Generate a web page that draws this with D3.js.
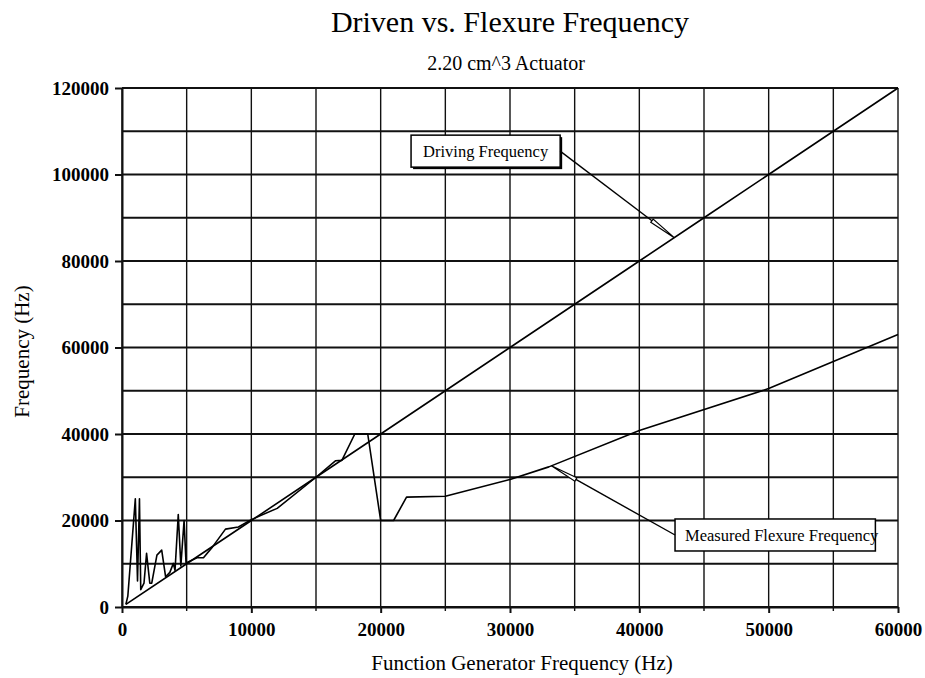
<!DOCTYPE html>
<html>
<head>
<meta charset="utf-8">
<script src="https://cdn.jsdelivr.net/npm/d3@7/dist/d3.min.js"></script>
<style>
  html, body { margin: 0; padding: 0; background: #fff; }
  svg { display: block; font-family: "Liberation Serif", "Times New Roman", serif; }
</style>
</head>
<body>
<div id="chart"></div>
<script>
// measured flexure frequency vs function generator frequency (Hz)
var measuredX = [300, 450, 1030, 1200, 1350, 1450, 1700, 1900, 2150, 2300, 2700, 3070, 3370,
  3700, 3970, 4100, 4350, 4550, 4800, 4950, 5800, 6300, 7000, 8000, 9000, 10000,
  12000, 15000, 16500, 17000, 18000, 19000, 20000, 21000, 22000, 25000, 30000,
  33000, 40000, 50000, 60000];
var measuredY = [600, 2500, 25000, 6000, 25000, 4000, 5500, 12400, 5500, 5500, 12000, 13150, 7000,
  8000, 10080, 8500, 21400, 9500, 20000, 10200, 11400, 11400, 13900, 18000, 18500, 20200,
  22800, 30000, 33800, 33900, 40000, 40000, 20000, 20000, 25400, 25600, 29500,
  32400, 40800, 50500, 63000];

// driving frequency
var drivingX = [300, 5000, 10000, 15000, 20000, 25000, 30000, 35000, 40000, 45000, 50000, 55000, 60000];
var drivingY = [600, 10000, 20000, 30000, 40000, 50000, 60000, 70000, 80000, 90000, 100000, 110000, 120000];

var xTicks = [0, 10000, 20000, 30000, 40000, 50000, 60000];
var yTicks = [0, 20000, 40000, 60000, 80000, 100000, 120000];

var titleText = 'Driven vs. Flexure Frequency';
var subTitleText = '2.20 cm^3 Actuator';
var xTitle = 'Function Generator Frequency (Hz)';
var yTitle = 'Frequency (Hz)';

// callout boxes: anchor on the series, box corner in data units
var callouts = [
  { text: 'Driving Frequency', ax: 42700, ay: 85400, bx: 22350, by: 109100, padL: 12, padR: 12, shadow: true },
  { text: 'Measured Flexure Frequency', ax: 33200, ay: 32650, bx: 42760, by: 20350, padL: 10, padR: -3, shadow: false }
];

var width = 925,
    height = 678,
    margin = { top: 88, right: 27, bottom: 71, left: 122 };

var svg = d3.select('#chart')
    .append('svg')
        .attr('width', width)
        .attr('height', height);

var x = d3.scaleLinear()
    .domain([0, 60000])
    .range([margin.left, width - margin.right]);
var y = d3.scaleLinear()
    .domain([0, 120000])
    .range([height - margin.bottom, margin.top]);

// grid
var grid = svg.append('g').attr('class', 'grid');
grid.selectAll('line.v')
    .data(d3.range(0, 60001, 5000))
    .enter().append('line')
        .attr('class', 'v')
        .attr('x1', function(d) { return x(d); })
        .attr('x2', function(d) { return x(d); })
        .attr('y1', y(0))
        .attr('y2', y(120000))
        .attr('stroke', '#111')
        .attr('stroke-width', 1.4);
grid.selectAll('line.h')
    .data(d3.range(0, 120001, 10000))
    .enter().append('line')
        .attr('class', 'h')
        .attr('x1', x(0))
        .attr('x2', x(60000))
        .attr('y1', function(d) { return y(d); })
        .attr('y2', function(d) { return y(d); })
        .attr('stroke', '#111')
        .attr('stroke-width', 2);

// axes
svg.append('g')
    .attr('transform', 'translate(0,' + y(0) + ')')
    .call(d3.axisBottom(x)
        .tickValues(xTicks)
        .tickSize(6)
        .tickSizeOuter(0)
        .tickPadding(10)
        .tickFormat(d3.format('d')));
// minor ticks
svg.append('g')
    .selectAll('line')
    .data(d3.range(5000, 60000, 10000))
    .enter().append('line')
        .attr('x1', function(d) { return x(d); })
        .attr('x2', function(d) { return x(d); })
        .attr('y1', y(0))
        .attr('y2', y(0) + 4)
        .attr('stroke', '#111')
        .attr('stroke-width', 1.4);

svg.append('g')
    .attr('transform', 'translate(' + x(0) + ',0)')
    .call(d3.axisLeft(y)
        .tickValues(yTicks)
        .tickSize(7)
        .tickSizeOuter(0)
        .tickPadding(6)
        .tickFormat(d3.format('d')));

svg.selectAll('.domain')
    .attr('stroke', '#111')
    .attr('stroke-width', 2);
svg.selectAll('.tick line')
    .attr('stroke', '#111')
    .attr('stroke-width', 2);
svg.selectAll('.tick text')
    .attr('fill', '#000')
    .style('font-family', '"Liberation Serif", serif')
    .style('font-size', '19px')
    .style('font-weight', 'bold');

// series
var line = d3.line()
    .x(function(d) { return x(d[0]); })
    .y(function(d) { return y(d[1]); });

svg.append('path')
    .datum(d3.zip(drivingX, drivingY))
    .attr('d', line)
    .attr('fill', 'none')
    .attr('stroke', '#000')
    .attr('stroke-width', 1.6);

svg.append('path')
    .datum(d3.zip(measuredX, measuredY))
    .attr('d', line)
    .attr('fill', 'none')
    .attr('stroke', '#000')
    .attr('stroke-width', 1.6)
    .attr('stroke-linejoin', 'round');

// titles
svg.append('text')
    .attr('x', (x(0) + x(60000)) / 2)
    .attr('y', 32)
    .style('text-anchor', 'middle')
    .style('font-size', '30px')
    .text(titleText);
svg.append('text')
    .attr('x', (x(0) + x(60000)) / 2 - 4)
    .attr('y', 70)
    .style('text-anchor', 'middle')
    .style('font-size', '20px')
    .text(subTitleText);
svg.append('text')
    .attr('x', (x(0) + x(60000)) / 2 + 12)
    .attr('y', 670)
    .style('text-anchor', 'middle')
    .style('font-size', '21px')
    .text(xTitle);
svg.append('text')
    .attr('transform', 'translate(29,' + ((y(0) + y(120000)) / 2 + 4) + ') rotate(-90)')
    .style('text-anchor', 'middle')
    .style('font-size', '21px')
    .text(yTitle);

// callouts
callouts.forEach(function(c) {
  var g = svg.append('g').attr('class', 'callout');
  var bx = x(c.bx), by = y(c.by);
  var t = g.append('text')
      .attr('x', bx + c.padL)
      .attr('y', by + 22)
      .style('font-size', '16.5px')
      .text(c.text);
  var tw = t.node().getComputedTextLength();
  var bw = tw + c.padL + c.padR, bh = 32;

  if(c.shadow) {
    g.insert('rect', 'text')
        .attr('x', bx + 2).attr('y', by + 2)
        .attr('width', bw).attr('height', bh)
        .attr('fill', '#000');
  }
  g.insert('rect', 'text')
      .attr('x', bx).attr('y', by)
      .attr('width', bw).attr('height', bh)
      .attr('fill', '#fff')
      .attr('stroke', '#000')
      .attr('stroke-width', 1.5);

  // leader from box edge to the series point
  var ax = x(c.ax), ay = y(c.ay);
  var sx = (ax > bx + bw) ? bx + bw : bx;
  var sy = by + bh / 2;
  var dx = ax - sx, dy = ay - sy, len = Math.sqrt(dx * dx + dy * dy);
  var ux = dx / len, uy = dy / len;
  var mx = ax - ux * 28, my = ay - uy * 28;
  g.append('line')
      .attr('x1', sx).attr('y1', sy)
      .attr('x2', mx).attr('y2', my)
      .attr('stroke', '#000')
      .attr('stroke-width', 1.4);
  // thin hollow tip
  var w = 2;
  g.append('path')
      .attr('d', 'M' + (mx - uy * w) + ',' + (my + ux * w)
          + 'L' + ax + ',' + ay
          + 'L' + (mx + uy * w) + ',' + (my - ux * w) + 'Z')
      .attr('fill', '#fff')
      .attr('stroke', '#000')
      .attr('stroke-width', 1.2);
});
</script>
</body>
</html>
